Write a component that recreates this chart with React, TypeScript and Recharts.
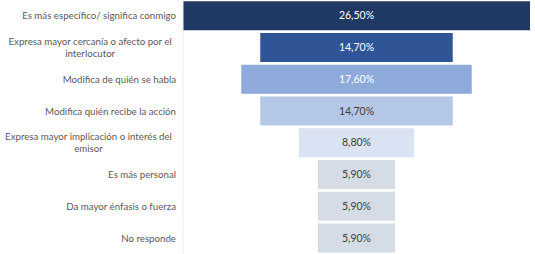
import { BarChart, Bar, XAxis, YAxis, Cell, LabelList } from "recharts";

const categories = [
  "Es más específico/ significa conmigo",
  "Expresa mayor cercanía o afecto por el interlocutor",
  "Modifica de quién se habla",
  "Modifica quién recibe la acción",
  "Expresa mayor implicación o interés del emisor",
  "Es más personal",
  "Da mayor énfasis o fuerza",
  "No responde",
];
const values = [26.5, 14.7, 17.6, 14.7, 8.8, 5.9, 5.9, 5.9];
const barColors = ["#203864", "#2f5597", "#8eaadb", "#b4c7e7", "#dae3f3", "#d6dce5", "#d6dce5", "#d6dce5"];
const labelColors = ["#ffffff", "#ffffff", "#ffffff", "#404040", "#404040", "#404040", "#404040", "#404040"];

const maxValue = Math.max(...values);
const rows = categories.map((name, i) => ({
  name,
  value: values[i],
  pad: (maxValue - values[i]) / 2,
}));

const FONT = "Lato, sans-serif";
const TICK_SIZE = 9.7;

let ctx: CanvasRenderingContext2D | null = null;
function measure(s: string) {
  if (!ctx) ctx = document.createElement("canvas").getContext("2d");
  if (!ctx) return s.length * 4.4;
  ctx.font = `${TICK_SIZE}px ${FONT}`;
  return ctx.measureText(s).width;
}

function wrap(s: string, max = 39) {
  const lines: string[] = [];
  let cur = "";
  for (const w of s.split(" ")) {
    const next = cur ? cur + " " + w : w;
    if (next.length > max && cur) {
      lines.push(cur);
      cur = w;
    } else cur = next;
  }
  lines.push(cur);
  return lines;
}

function CategoryTick({ x, y, payload }: any) {
  const lines = wrap(payload.value);
  const lineH = 12;
  const top = y - ((lines.length - 1) * lineH) / 2;
  if (lines.length === 1) {
    return (
      <text x={x + 1} y={y} dy="0.35em" textAnchor="end" fill="#595959" fontSize={TICK_SIZE} fontFamily={FONT}>
        {lines[0]}
      </text>
    );
  }
  const w = Math.max(...lines.map(measure));
  const cx = x - 3 - w / 2;
  return (
    <text textAnchor="middle" fill="#595959" fontSize={TICK_SIZE} fontFamily={FONT}>
      {lines.map((l, i) => (
        <tspan key={i} x={cx} y={top + i * lineH} dy="0.35em">
          {l}
        </tspan>
      ))}
    </text>
  );
}

function ValueLabel({ x, y, width, height, value, index }: any) {
  return (
    <text
      x={x + width / 2}
      y={y + height / 2}
      dy="0.35em"
      textAnchor="middle"
      fill={labelColors[index]}
      fontSize={10.5}
      fontFamily={FONT}
    >
      {value.toFixed(2).replace(".", ",")}%
    </text>
  );
}

export default function App() {
  return (
    <div style={{ position: "absolute", left: 0, top: 0, background: "#fff" }}>
      <BarChart
        width={535}
        height={254}
        data={rows}
        layout="vertical"
        margin={{ top: 0, right: 5, bottom: 0, left: 0 }}
        barCategoryGap="4%"
      >
        <XAxis type="number" hide domain={[0, maxValue]} />
        <YAxis
          type="category"
          dataKey="name"
          width={183}
          tickLine={false}
          axisLine={{ stroke: "#ededed" }}
          tick={<CategoryTick />}
          interval={0}
        />
        <Bar dataKey="pad" stackId="f" fill="transparent" isAnimationActive={false} />
        <Bar dataKey="value" stackId="f" isAnimationActive={false}>
          {rows.map((_, i) => (
            <Cell key={i} fill={barColors[i]} />
          ))}
          <LabelList dataKey="value" content={<ValueLabel />} />
        </Bar>
      </BarChart>
    </div>
  );
}
